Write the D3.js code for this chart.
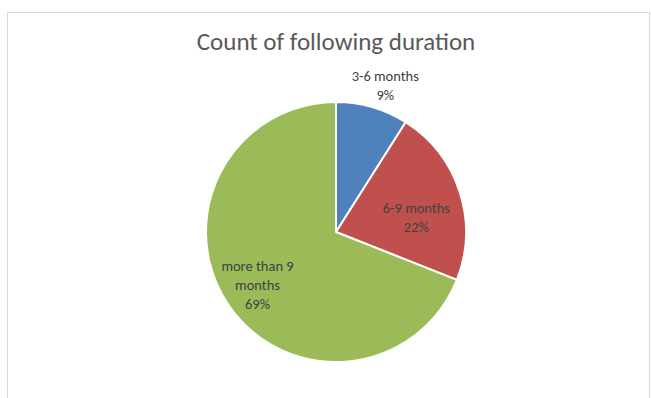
<!DOCTYPE html>
<html>
<head>
<meta charset="utf-8">
<script src="https://cdn.jsdelivr.net/npm/d3@7"></script>
<style>
html,body{margin:0;padding:0;background:#fff;}
svg{display:block;}
</style>
</head>
<body>
<svg id="chart" width="651" height="398"></svg>
<script>
const categories = ["3-6 months", "6-9 months", "more than 9 months"];
const values = [9, 22, 69];
const labelLines = [["3-6 months", "9%"], ["6-9 months", "22%"], ["more than 9", "months", "69%"]];
const colors = ["#4F81BD", "#C0504D", "#9BBB59"];
const title = "Count of following duration";

const svg = d3.select("#chart");
const font = "Carlito, Calibri, 'Open Sans', 'Liberation Sans', sans-serif";

// chart frame
svg.append("rect").attr("x", 7.5).attr("y", 12.5).attr("width", 642).attr("height", 400)
  .attr("fill", "#fff").attr("stroke", "#d9d9d9").attr("stroke-width", 1);

svg.append("text").attr("x", 336).attr("y", 50).attr("text-anchor", "middle")
  .attr("font-family", font).attr("font-size", 25).attr("fill", "#595959").text(title);

const cx = 336, cy = 232, r = 130;
const g = svg.append("g").attr("transform", `translate(${cx},${cy})`);

const pie = d3.pie().sort(null).value(d => d)(values);
const arc = d3.arc().innerRadius(0).outerRadius(r);

g.selectAll("path").data(pie).join("path")
  .attr("d", arc)
  .attr("fill", (d, i) => colors[i])
  .attr("stroke", "#fff").attr("stroke-width", 2).attr("stroke-linejoin", "round");

// label placement (layout constants): radius ratio and nudges
const labelRadius = [1.0, 0.65, 0.73];
const labelNudge = [[13, -12], [0, 12], [0, 0]];
const lineH = 19;
pie.forEach((d, i) => {
  const a = (d.startAngle + d.endAngle) / 2;
  const rr = r * labelRadius[i];
  const x = Math.sin(a) * rr + labelNudge[i][0];
  let y = -Math.cos(a) * rr + labelNudge[i][1];
  const lines = labelLines[i];
  const n = lines.length;
  let yStart = i === 0 ? y - (n - 1) * lineH : y - (n - 1) * lineH / 2;
  const t = g.append("text").attr("text-anchor", "middle")
    .attr("font-family", font).attr("font-size", 14.5).attr("fill", "#404040");
  lines.forEach((s, k) => {
    t.append("tspan").attr("x", x).attr("y", yStart + k * lineH + 5).text(s);
  });
});
</script>
</body>
</html>
